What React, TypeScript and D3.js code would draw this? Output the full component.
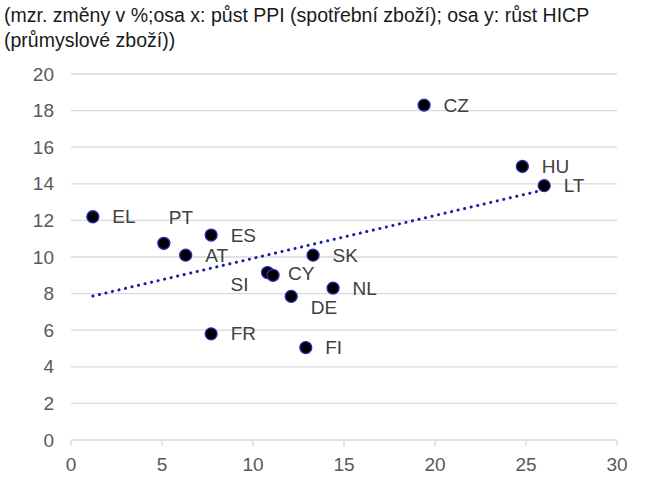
import * as d3 from 'd3';

// osa x: růst PPI (spotřební zboží), osa y: růst HICP (průmyslové zboží)
const countries = ['EL', 'PT', 'AT', 'ES', 'SI', 'CY', 'SK', 'DE', 'NL', 'FR', 'FI', 'CZ', 'HU', 'LT'];
const ppi = [1.2, 5.1, 6.3, 7.7, 10.8, 11.1, 13.3, 12.1, 14.4, 7.7, 12.9, 19.4, 24.8, 26.0];
const hicp = [12.2, 10.75, 10.1, 11.2, 9.15, 9.0, 10.1, 7.85, 8.3, 5.8, 5.05, 18.3, 14.95, 13.9];

const xTicks = [0, 5, 10, 15, 20, 25, 30];
const yTicks = [0, 2, 4, 6, 8, 10, 12, 14, 16, 18, 20];

const titleLines = [
  '(mzr. změny v %;osa x: půst PPI (spotřební zboží); osa y: růst HICP',
  '(průmyslové zboží))',
];

// label placement (pixels relative to the point)
const labelPos: Record<string, { dx: number; dy: number; anchor?: string }> = {
  PT: { dx: 5, dy: -19 },
  SI: { dx: -19, dy: 18, anchor: 'end' },
  CY: { dx: 15, dy: 5 },
  DE: { dx: 19.5, dy: 18 },
};

const width = 670;
const height = 491;
const margin = { top: 74, right: 53, bottom: 51, left: 71 };
const font = '"Liberation Sans", Arial, sans-serif';

export default function App() {
  const x = d3.scaleLinear().domain([0, 30]).range([margin.left, width - margin.right]);
  const y = d3.scaleLinear().domain([0, 20]).range([height - margin.bottom, margin.top]);

  const points = countries.map((c, i) => ({ c, x: ppi[i], y: hicp[i] }));

  // linear trend (least squares)
  const mx = d3.mean(ppi) as number;
  const my = d3.mean(hicp) as number;
  const sxy = d3.sum(points, (p) => (p.x - mx) * (p.y - my));
  const sxx = d3.sum(points, (p) => (p.x - mx) ** 2);
  const slope = sxy / sxx;
  const icpt = my - slope * mx;
  const [x0, x1] = d3.extent(ppi) as [number, number];
  const trend = d3
    .line<number>()
    .x((v) => x(v))
    .y((v) => y(icpt + slope * v))([x0, x1]);

  return (
    <svg
      width={width}
      height={height}
      style={{ position: 'absolute', left: 0, top: 0, background: '#fff' }}
      fontFamily={font}
    >
      {titleLines.map((t, i) => (
        <text key={i} x={4} y={22 + i * 25} fontSize={19.5} fill="#1a1a1a">
          {t}
        </text>
      ))}

      {yTicks.map((t) => (
        <g key={t}>
          {t > 0 && (
            <line x1={x(0)} x2={x(30)} y1={y(t)} y2={y(t)} stroke="#d9d9d9" strokeWidth={1.3} />
          )}
          <text x={54} y={y(t)} dy="0.35em" textAnchor="end" fontSize={19} fill="#595959">
            {t}
          </text>
        </g>
      ))}

      <line x1={x(0)} x2={x(30)} y1={y(0)} y2={y(0)} stroke="#d9d9d9" strokeWidth={1.3} />
      {xTicks.map((t) => (
        <g key={t}>
          <line x1={x(t)} x2={x(t)} y1={y(0)} y2={y(0) + 6} stroke="#d9d9d9" strokeWidth={1.3} />
          <text x={x(t)} y={y(0) + 31} textAnchor="middle" fontSize={19} fill="#595959">
            {t}
          </text>
        </g>
      ))}

      <path
        d={trend ?? ''}
        fill="none"
        stroke="#1c1ca0"
        strokeWidth={3}
        strokeLinecap="round"
        strokeDasharray="0.1 6.6"
      />

      {points.map((p) => (
        <circle key={p.c} cx={x(p.x)} cy={y(p.y)} r={6} fill="#000" stroke="#2a2ab8" strokeWidth={1.3} />
      ))}

      {points.map((p) => {
        const lp = labelPos[p.c] ?? { dx: 19.5, dy: 6.5 };
        return (
          <text
            key={p.c}
            x={x(p.x) + lp.dx}
            y={y(p.y) + lp.dy}
            textAnchor={lp.anchor ?? 'start'}
            fontSize={19}
            fill="#404040"
          >
            {p.c}
          </text>
        );
      })}
    </svg>
  );
}
